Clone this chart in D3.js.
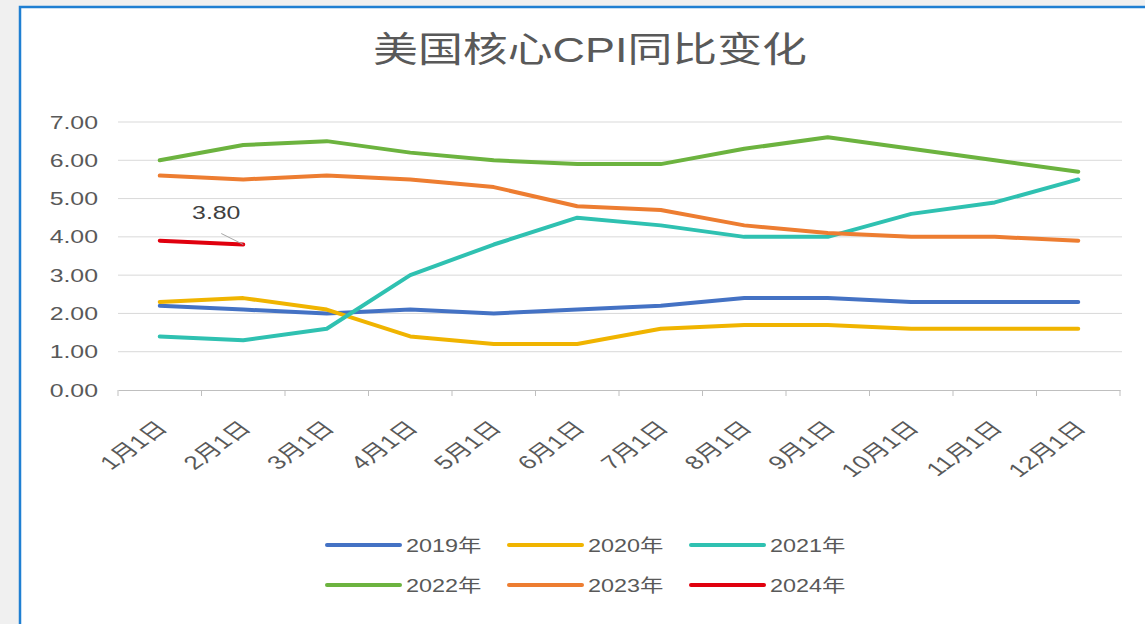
<!DOCTYPE html>
<html>
<head>
<meta charset="utf-8">
<script src="https://cdn.jsdelivr.net/npm/d3@7"></script>
<style>
  body { margin: 0; background: #f0f0f0; }
  svg { display: block; }
</style>
</head>
<body>
<svg id="chart" width="1145" height="624"></svg>
<script>

var months = ["1月1日", "2月1日", "3月1日", "4月1日", "5月1日", "6月1日",
	"7月1日", "8月1日", "9月1日", "10月1日", "11月1日", "12月1日"];
var years = ["2019年", "2020年", "2021年", "2022年", "2023年", "2024年"];
var yTicks = [0, 1, 2, 3, 4, 5, 6, 7];

var cpi2019 = [2.2, 2.1, 2.0, 2.1, 2.0, 2.1, 2.2, 2.4, 2.4, 2.3, 2.3, 2.3];
var cpi2020 = [2.3, 2.4, 2.1, 1.4, 1.2, 1.2, 1.6, 1.7, 1.7, 1.6, 1.6, 1.6];
var cpi2021 = [1.4, 1.3, 1.6, 3.0, 3.8, 4.5, 4.3, 4.0, 4.0, 4.6, 4.9, 5.5];
var cpi2022 = [6.0, 6.4, 6.5, 6.2, 6.0, 5.9, 5.9, 6.3, 6.6, 6.3, 6.0, 5.7];
var cpi2023 = [5.6, 5.5, 5.6, 5.5, 5.3, 4.8, 4.7, 4.3, 4.1, 4.0, 4.0, 3.9];
var cpi2024 = [3.9, 3.8];

var colors = ["#4472c4", "#f0b400", "#2fc1b1", "#6cb33f", "#ed7d31", "#e0000e"];
var series = [cpi2019, cpi2020, cpi2021, cpi2022, cpi2023, cpi2024];

var svg = d3.select("#chart");
var font = "'Liberation Sans', 'Noto Sans CJK SC', sans-serif";
var stretch = 1.38; // text in the picture looks widened

// panel
svg.append("rect")
	.attr("x", 20).attr("y", 7)
	.attr("width", 1200).attr("height", 630)
	.attr("fill", "#fff")
	.attr("stroke", "#1f7fd2")
	.attr("stroke-width", 2.5);

var x = d3.scaleBand()
	.domain(months)
	.range([118, 1120]);

var y = d3.scaleLinear()
	.domain([0, 7])
	.range([390, 122]);

function cx(i) { return x(months[i]) + x.bandwidth() / 2; }

// title
svg.append("text")
	.attr("x", 373)
	.attr("y", 62)
	.attr("font-family", font)
	.attr("font-size", 35)
	.attr("fill", "#595959")
	.attr("textLength", 434)
	.attr("lengthAdjust", "spacingAndGlyphs")
	.text("美国核心CPI同比变化");

// grid
svg.append("g").selectAll("line")
	.data(yTicks.slice(1))
	.enter().append("line")
	.attr("x1", 118).attr("x2", 1122)
	.attr("y1", function(d) { return y(d); })
	.attr("y2", function(d) { return y(d); })
	.attr("stroke", "#d9d9d9")
	.attr("stroke-width", 1);

// y labels
svg.append("g").selectAll("text")
	.data(yTicks)
	.enter().append("text")
	.attr("transform", function(d) { return "translate(98," + (y(d) + 6.5) + ") scale(" + stretch + ",1)"; })
	.attr("text-anchor", "end")
	.attr("font-family", font)
	.attr("font-size", 18)
	.attr("fill", "#595959")
	.text(function(d) { return d3.format(".2f")(d); });

// x axis
var xAxis = d3.axisBottom(x).tickSize(0).tickFormat("");
var gx = svg.append("g")
	.attr("transform", "translate(0," + y(0) + ")")
	.call(xAxis);
gx.select(".domain").attr("stroke", "#bfbfbf").attr("stroke-width", 1.2);

gx.selectAll(".edge")
	.data(months.concat([null]))
	.enter().append("line")
	.attr("class", "edge")
	.attr("x1", function(d, i) { return i < months.length ? x(d) : x.range()[1]; })
	.attr("x2", function(d, i) { return i < months.length ? x(d) : x.range()[1]; })
	.attr("y1", 0).attr("y2", 6)
	.attr("stroke", "#bfbfbf");

svg.append("g").selectAll("text")
	.data(months)
	.enter().append("text")
	.attr("transform", function(d, i) {
		return "translate(" + (cx(i) + 9) + ",429) scale(" + stretch + ",1) rotate(-45)";
	})
	.attr("text-anchor", "end")
	.attr("font-family", font)
	.attr("font-size", 19)
	.attr("fill", "#595959")
	.text(function(d) { return d; });

// lines
var line = d3.line()
	.x(function(d, i) { return cx(i); })
	.y(function(d) { return y(d); });

svg.append("g").selectAll("path")
	.data(series)
	.enter().append("path")
	.attr("d", line)
	.attr("fill", "none")
	.attr("stroke", function(d, i) { return colors[i]; })
	.attr("stroke-width", 4)
	.attr("stroke-linejoin", "round")
	.attr("stroke-linecap", "round");

// label on last 2024 point
var lastI = cpi2024.length - 1;
svg.append("line")
	.attr("x1", cx(lastI) - 22).attr("y1", y(cpi2024[lastI]) - 11)
	.attr("x2", cx(lastI)).attr("y2", y(cpi2024[lastI]))
	.attr("stroke", "#a6a6a6")
	.attr("stroke-width", 1);

svg.append("text")
	.attr("transform", "translate(" + (cx(lastI) - 27) + "," + (y(cpi2024[lastI]) - 26) + ") scale(" + stretch + ",1)")
	.attr("text-anchor", "middle")
	.attr("font-family", font)
	.attr("font-size", 18)
	.attr("fill", "#404040")
	.text(d3.format(".2f")(cpi2024[lastI]));

// legend
var legend = svg.append("g");
var leg = legend.selectAll("g")
	.data(years)
	.enter().append("g")
	.attr("transform", function(d, i) {
		return "translate(" + (327 + (i % 3) * 182) + "," + (545 + Math.floor(i / 3) * 40) + ")";
	});

leg.append("line")
	.attr("x1", 0).attr("x2", 73)
	.attr("y1", 0).attr("y2", 0)
	.attr("stroke", function(d, i) { return colors[i]; })
	.attr("stroke-width", 4)
	.attr("stroke-linecap", "round");

leg.append("text")
	.attr("transform", "translate(79,7) scale(1.3,1)")
	.attr("font-family", font)
	.attr("font-size", 18)
	.attr("fill", "#595959")
	.text(function(d) { return d; });

</script>
</body>
</html>
